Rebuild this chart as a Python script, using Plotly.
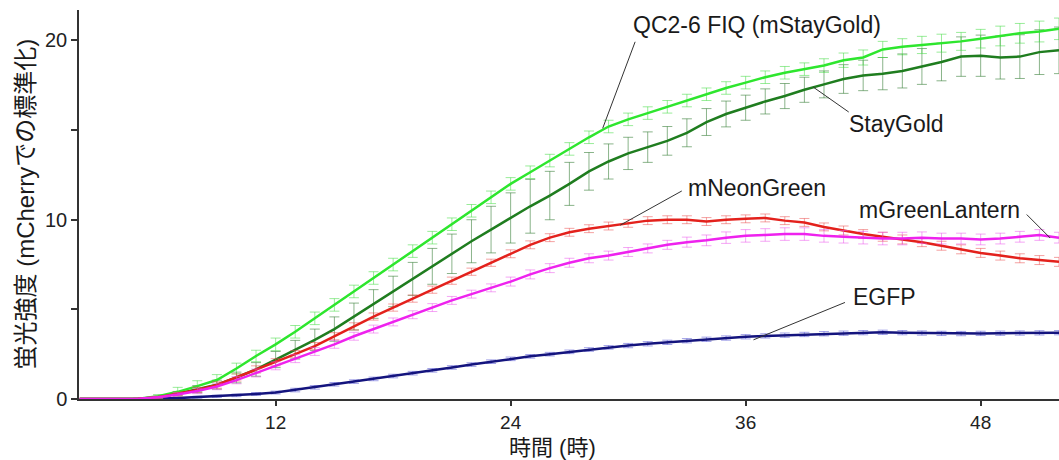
import plotly.graph_objects as go

hours = list(range(2, 53))

qc_fiq = [0, 0, 0, 0.02, 0.15, 0.4, 0.72, 1.06, 1.7, 2.4, 3.05, 3.75, 4.5, 5.25, 6.0, 6.75, 7.5,
          8.25, 9.0, 9.75, 10.5, 11.25, 12.0, 12.65, 13.3, 13.95, 14.6, 15.2, 15.6, 15.95, 16.3,
          16.65, 17.0, 17.35, 17.65, 17.95, 18.2, 18.4, 18.6, 18.9, 19.05, 19.5, 19.65, 19.75,
          19.85, 19.95, 20.1, 20.25, 20.4, 20.5, 20.65]
qc_fiq_err = [0, 0, 0, 0.02, 0.1, 0.25, 0.3, 0.3, 0.3, 0.32, 0.35, 0.35, 0.35, 0.35, 0.35, 0.35,
              0.35, 0.35, 0.35, 0.35, 0.35, 0.35, 0.35, 0.35, 0.35, 0.35, 0.35, 0.35, 0.35, 0.35,
              0.35, 0.35, 0.35, 0.35, 0.35, 0.35, 0.35, 0.35, 0.38, 0.4, 0.42, 0.45, 0.45, 0.48,
              0.5, 0.5, 0.52, 0.55, 0.55, 0.58, 0.6]

staygold = [0, 0, 0, 0.02, 0.1, 0.3, 0.55, 0.8, 1.2, 1.65, 2.2, 2.75, 3.3, 3.9, 4.6, 5.3, 6.0,
            6.7, 7.4, 8.1, 8.8, 9.45, 10.1, 10.75, 11.35, 12.0, 12.7, 13.25, 13.7, 14.05, 14.4,
            14.85, 15.45, 15.9, 16.25, 16.6, 16.9, 17.25, 17.55, 17.85, 18.05, 18.15, 18.3,
            18.55, 18.8, 19.1, 19.15, 19.05, 19.1, 19.35, 19.45]
staygold_err = [0, 0, 0, 0.02, 0.05, 0.12, 0.2, 0.25, 0.3, 0.38, 0.45, 0.52, 0.6, 0.68, 0.75,
                0.8, 0.85, 0.92, 1.0, 1.1, 1.2, 1.3, 1.4, 1.5, 1.35, 1.2, 1.05, 0.98, 0.9, 0.85,
                0.8, 0.78, 0.75, 0.72, 0.7, 0.7, 0.7, 0.7, 0.75, 0.8, 0.85, 0.9, 0.95, 1.0, 1.05,
                1.1, 1.15, 1.2, 1.22, 1.25, 1.3]

mneongreen = [0, 0, 0, 0.02, 0.1, 0.28, 0.5, 0.78, 1.2, 1.65, 2.05, 2.5, 2.95, 3.5, 4.05, 4.6,
              5.1, 5.6, 6.1, 6.6, 7.1, 7.6, 8.1, 8.6, 9.0, 9.3, 9.5, 9.65, 9.8, 9.95, 10.0,
              10.0, 9.9, 10.0, 10.05, 10.1, 9.95, 9.85, 9.6, 9.4, 9.2, 9.05, 8.9, 8.75, 8.55,
              8.35, 8.15, 8.0, 7.85, 7.75, 7.65]
mneongreen_err = [0, 0, 0, 0.02, 0.05, 0.1, 0.15, 0.18, 0.2, 0.2, 0.2, 0.2, 0.2, 0.2, 0.2, 0.2,
                  0.2, 0.2, 0.2, 0.2, 0.2, 0.2, 0.22, 0.22, 0.22, 0.22, 0.22, 0.22, 0.22, 0.22,
                  0.22, 0.22, 0.22, 0.22, 0.22, 0.22, 0.22, 0.22, 0.22, 0.25, 0.25, 0.25, 0.25,
                  0.25, 0.25, 0.25, 0.25, 0.25, 0.25, 0.25, 0.25]

mgreenlantern = [0, 0, 0, 0.02, 0.1, 0.25, 0.45, 0.7, 1.05, 1.45, 1.85, 2.25, 2.65, 3.05, 3.5,
                 3.9, 4.3, 4.7, 5.1, 5.5, 5.85, 6.2, 6.55, 6.95, 7.3, 7.6, 7.85, 8.0, 8.2, 8.4,
                 8.6, 8.75, 8.85, 9.0, 9.1, 9.15, 9.2, 9.2, 9.1, 9.05, 9.0, 8.95, 8.95, 9.0,
                 8.95, 8.95, 8.9, 8.95, 9.05, 9.15, 9.0]
mgreenlantern_err = [0, 0, 0, 0.02, 0.05, 0.1, 0.15, 0.18, 0.2, 0.22, 0.22, 0.22, 0.22, 0.22,
                     0.22, 0.22, 0.22, 0.22, 0.22, 0.22, 0.22, 0.22, 0.25, 0.25, 0.25, 0.25,
                     0.25, 0.25, 0.25, 0.25, 0.25, 0.28, 0.3, 0.32, 0.35, 0.35, 0.35, 0.35,
                     0.35, 0.35, 0.35, 0.35, 0.35, 0.32, 0.3, 0.3, 0.3, 0.3, 0.3, 0.3, 0.3]

egfp = [0, 0, 0, 0, 0.02, 0.05, 0.1, 0.15, 0.2, 0.28, 0.36, 0.5, 0.65, 0.82, 0.97, 1.12, 1.28,
        1.44, 1.6, 1.76, 1.92, 2.08, 2.24, 2.38, 2.5, 2.63, 2.76, 2.88, 2.98, 3.08, 3.16, 3.25,
        3.33, 3.4, 3.47, 3.52, 3.56, 3.6, 3.64, 3.67, 3.7, 3.72, 3.7, 3.68, 3.66, 3.65, 3.66,
        3.67, 3.68, 3.69, 3.7]
egfp_err = [0, 0, 0, 0, 0.02, 0.04, 0.05, 0.06, 0.07, 0.08, 0.08, 0.1, 0.1, 0.1, 0.1, 0.1,
            0.1, 0.1, 0.1, 0.1, 0.1, 0.1, 0.1, 0.1, 0.1, 0.1, 0.1, 0.1, 0.12, 0.12, 0.12, 0.12,
            0.12, 0.12, 0.12, 0.12, 0.12, 0.12, 0.12, 0.12, 0.12, 0.12, 0.12, 0.12, 0.12, 0.12,
            0.12, 0.12, 0.12, 0.12, 0.12]

series = [
    ("EGFP", egfp, egfp_err, "#14147e", "rgba(70,70,210,0.5)"),
    ("StayGold", staygold, staygold_err, "#1f7d1f", "rgba(60,130,60,0.6)"),
    ("QC2-6 FIQ (mStayGold)", qc_fiq, qc_fiq_err, "#2ee62e", "rgba(70,220,70,0.55)"),
    ("mNeonGreen", mneongreen, mneongreen_err, "#e3211c", "rgba(235,70,70,0.5)"),
    ("mGreenLantern", mgreenlantern, mgreenlantern_err, "#ee22ee", "rgba(235,80,235,0.5)"),
]

FONT = "Liberation Sans, Arial, Noto Sans CJK JP, sans-serif"

fig = go.Figure()
for name, vals, errs, col, ecol in series:
    fig.add_trace(go.Scatter(
        x=hours, y=vals, name=name, mode="lines",
        line=dict(color=col, width=2.5),
        error_y=dict(type="data", array=errs, visible=True, color=ecol,
                     thickness=1, width=5),
    ))

# leader lines (point on curve -> pixel offset of the line end)
leaders = [
    (28.7, 15.1, 33, -88),
    (39.45, 17.4, 37, 26),
    (29.6, 9.7, 63, -35),
    (51.55, 8.98, -25, -25),
    (36.4, 3.3, 93, -38),
]
for lx, ly, ax, ay in leaders:
    fig.add_annotation(x=lx, y=ly, ax=ax, ay=ay, text="", showarrow=True,
                       arrowhead=0, arrowwidth=1, arrowcolor="#333333",
                       standoff=0, startstandoff=0)

labels = [
    ("QC2-6 FIQ (mStayGold)", 36.6, 20.86),
    ("StayGold", 43.7, 15.34),
    ("mNeonGreen", 36.6, 11.77),
    ("mGreenLantern", 45.9, 10.54),
    ("EGFP", 43.1, 5.69),
]
for txt, tx, ty in labels:
    fig.add_annotation(x=tx, y=ty, text=txt, showarrow=False,
                       font=dict(family=FONT, size=23, color="#1a1a1a"),
                       xanchor="center", yanchor="middle")

fig.add_annotation(xref="paper", yref="paper", x=-0.0551, y=0.5,
                   text="蛍光強度 (mCherryでの標準化)", textangle=-90, showarrow=False,
                   font=dict(family=FONT, size=24, color="#1a1a1a"),
                   xanchor="center", yanchor="middle")
fig.add_annotation(xref="paper", yref="paper", x=0.4827, y=-0.1235,
                   text="時間 (時)", showarrow=False,
                   font=dict(family=FONT, size=22, color="#1a1a1a"),
                   xanchor="center", yanchor="middle")

fig.update_layout(
    width=1059, height=460,
    margin=dict(l=79, r=0, t=10, b=61),
    paper_bgcolor="white", plot_bgcolor="white",
    showlegend=False,
    font=dict(family=FONT, size=20, color="#222222"),
    xaxis=dict(range=[1.96, 52.0], tickvals=[12, 24, 36, 48], ticks="outside",
               ticklen=5, tickwidth=1.5, tickcolor="#333333",
               showline=True, linecolor="#333333", linewidth=1.5,
               showgrid=False, zeroline=False,
               tickfont=dict(family=FONT, size=19, color="#222222")),
    yaxis=dict(range=[0, 21.7], tickvals=[0, 10, 20], ticks="outside",
               ticklen=6, tickwidth=1.5, tickcolor="#333333",
               minor=dict(tickvals=[5, 15], ticks="outside", ticklen=6,
                          tickwidth=1.5, tickcolor="#333333"),
               showline=True, linecolor="#333333", linewidth=1.5,
               showgrid=False, zeroline=False,
               tickfont=dict(family=FONT, size=20, color="#222222")),
)

fig.write_html(
    "out.html",
    config={"displayModeBar": False},
    post_script="document.body.style.margin='0';document.body.style.overflow='hidden';",
)
